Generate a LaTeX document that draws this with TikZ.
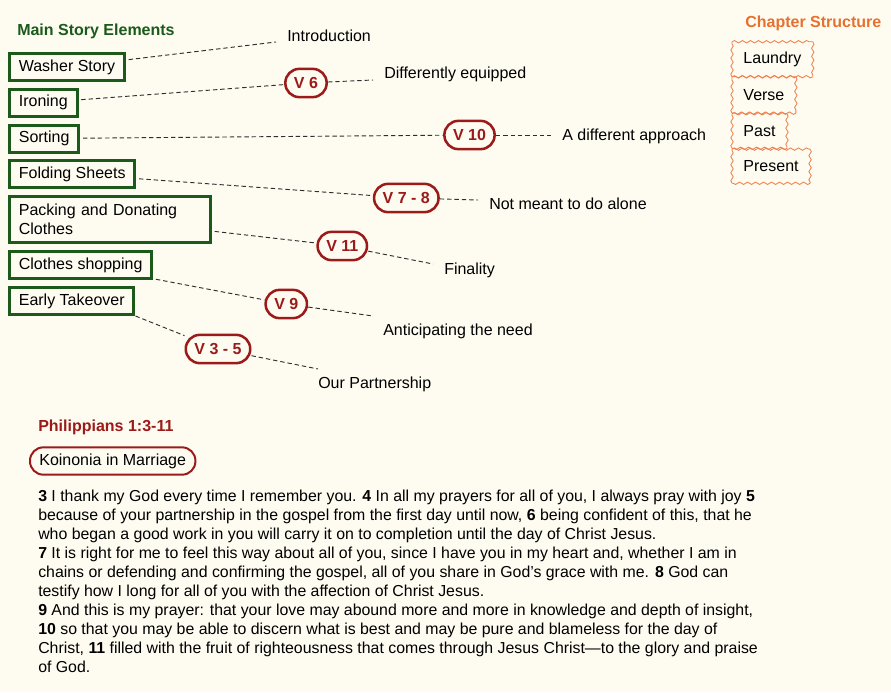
\documentclass[tikz,border=0pt]{standalone}
\usepackage{fontspec}
\setmainfont{Liberation Sans}
\usetikzlibrary{decorations.pathmorphing,calc}
\definecolor{bgcol}{HTML}{FEFCF1}
\definecolor{dgreen}{HTML}{1B5A1B}
\definecolor{dred}{HTML}{9B1B1B}
\definecolor{orng}{HTML}{E8702E}
\definecolor{lorng}{HTML}{EE8250}
\definecolor{conncol}{HTML}{2E2E2E}
\begin{document}
\begin{tikzpicture}[x=0.75pt,y=-0.75pt, font=\fontsize{12}{14.1}\selectfont,
 elem/.style={draw=dgreen, line width=2.25pt, inner xsep=7pt, inner ysep=0pt, minimum height=20.25pt, anchor=west, align=left},
 pill/.style={draw=dred, text=dred, font=\fontsize{12}{14}\selectfont\bfseries, line width=1.9pt, rounded corners=10.5pt, inner xsep=6.5pt, inner ysep=0pt, minimum height=21.2pt},
 lbl/.style={anchor=base west, inner sep=0pt},
 conn/.style={draw=conncol, line width=0.7pt, dash pattern=on 3.3pt off 2.2pt},
 chap/.style={inner xsep=8.6pt, minimum height=26pt, anchor=west, outer sep=0pt},
 chapline/.style={draw=lorng, line width=0.65pt, decorate, decoration={snake, amplitude=0.9pt, segment length=6pt}}]
\fill[bgcol] (0,0) rectangle (891,692);
\useasboundingbox (0,0) rectangle (891,692);

% titles
\node[lbl, text=dgreen, font=\fontsize{12}{14}\selectfont\bfseries] (mtitle) at (17,36) {Main Story Elements};
\node[lbl, text=orng, font=\fontsize{12}{14}\selectfont\bfseries] (ctitle) at (745,27.5) {Chapter Structure};
\node[lbl, text=dred, font=\fontsize{12}{14}\selectfont\bfseries] (ptitle) at (38,431) {Philippians 1:3-11};

% story elements
\node[elem] (ws) at (8,67) {Washer Story};
\node[elem] (iron) at (8,102.5) {Ironing};
\node[elem] (sort) at (8,138.5) {Sorting};
\node[elem] (fold) at (8,174) {Folding Sheets};
\node[elem, text width=136.8pt, minimum height=34.5pt] (pack) at (8,219.5) {Packing and Donating\\Clothes};
\node[elem] (shop) at (8,265) {Clothes shopping};
\node[elem] (early) at (8,301) {Early Takeover};

% verse pills
\node[pill] (v6) at (306,83) {V 6};
\node[pill] (v10) at (469.5,135) {V 10};
\node[pill] (v78) at (406.3,198) {V 7 - 8};
\node[pill] (v11) at (342.3,246) {V 11};
\node[pill] (v9) at (286.3,304) {V 9};
\node[pill] (v35) at (218,349) {V 3 - 5};

% labels
\node[lbl] (lintro) at (287,41) {Introduction};
\node[lbl] (ldiff) at (384,79) {Differently equipped};
\node[lbl] (lappr) at (562,140) {A different approach};
\node[lbl] (lalone) at (489,209) {Not meant to do alone};
\node[lbl] (lfin) at (444,274) {Finality};
\node[lbl] (lneed) at (383,335) {Anticipating the need};
\node[lbl] (lpart) at (318,388.5) {Our Partnership};

% free ends
\coordinate (e0) at (276,42);
\coordinate (e6) at (373,80);
\coordinate (e10) at (551,135);
\coordinate (e78) at (478,200);
\coordinate (e11) at (433,264);
\coordinate (e9) at (373,316);
\coordinate (e35) at (318,369);

% connectors
\draw[conn, shorten <=2pt] (ws) -- (e0);
\draw[conn, shorten <=2pt] (iron) -- (v6);
\draw[conn] (v6) -- (e6);
\draw[conn, shorten <=2pt] (sort) -- (v10);
\draw[conn] (v10) -- (e10);
\draw[conn, shorten <=2pt] (fold) -- (v78);
\draw[conn] (v78) -- (e78);
\draw[conn, shorten <=2pt] (pack) -- (v11);
\draw[conn] (v11) -- (e11);
\draw[conn, shorten <=2pt] (shop) -- (v9);
\draw[conn] (v9) -- (e9);
\draw[conn] (early.south east) -- (v35);
\draw[conn] (v35) -- (e35);

% chapter structure
\node[chap, minimum height=26.2pt] (laundry) at (732,59.2) {Laundry};
\node[chap, minimum height=27.2pt] (verse) at (732,95) {Verse};
\node[chap] (past) at (732,131) {Past};
\node[chap, minimum height=25.6pt] (present) at (732,166.2) {Present};
\foreach \n in {laundry,verse,past,present}{
  \draw[chapline] (\n.south west) -- (\n.north west);
  \draw[chapline] (\n.north west) -- (\n.north east);
  \draw[chapline] (\n.north east) -- (\n.south east);
  \draw[chapline] (\n.south east) -- (\n.south west);
}

% Koinonia
\node[draw=dred, line width=1.5pt, rounded corners=10pt, inner xsep=7pt, inner ysep=0pt, minimum height=20.5pt, anchor=west] (koin) at (29,461) {Koinonia in Marriage};

% body text
\node[anchor=north west, inner sep=0pt, align=left, font=\fontsize{11.9}{14.2}\selectfont] (body) at (38,490) {%
\textbf{3} I thank my God every time I remember you. \textbf{4} In all my prayers for all of you, I always pray with joy \textbf{5}\\
because of your partnership in the gospel from the first day until now, \textbf{6} being confident of this, that he\\
who began a good work in you will carry it on to completion until the day of Christ Jesus.\\
\textbf{7} It is right for me to feel this way about all of you, since I have you in my heart and, whether I am in\\
chains or defending and confirming the gospel, all of you share in God’s grace with me. \textbf{8} God can\\
testify how I long for all of you with the affection of Christ Jesus.\\
\textbf{9} And this is my prayer: that your love may abound more and more in knowledge and depth of insight,\\
\textbf{10} so that you may be able to discern what is best and may be pure and blameless for the day of\\
Christ, \textbf{11} filled with the fruit of righteousness that comes through Jesus Christ—to the glory and praise\\
of God.};
\end{tikzpicture}
\end{document}
